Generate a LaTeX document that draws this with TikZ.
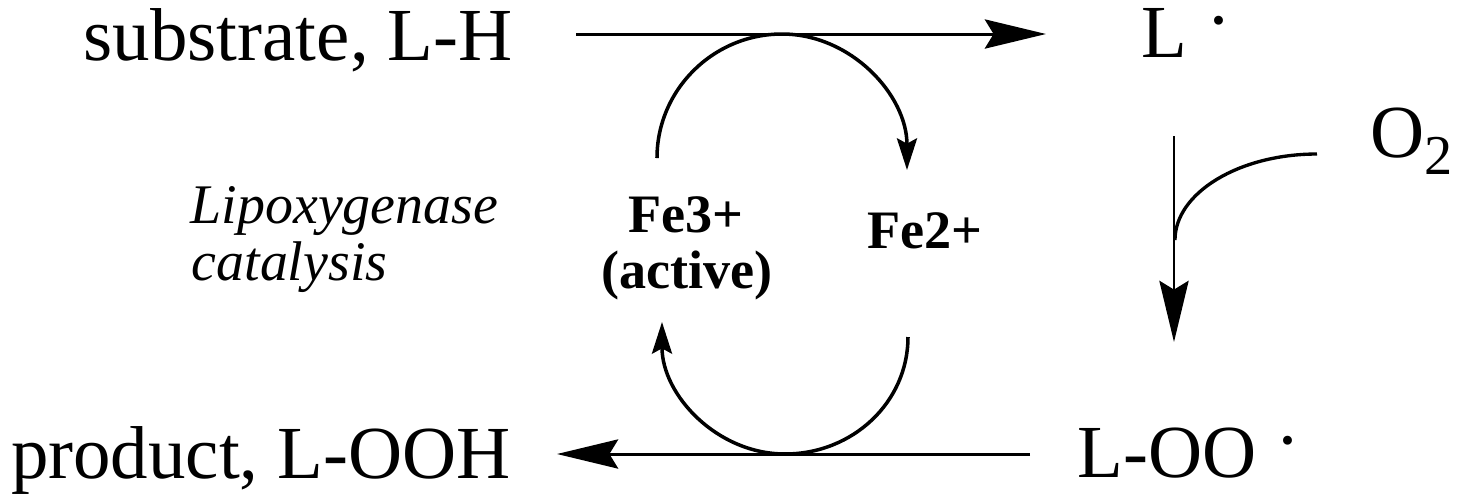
\documentclass[tikz,border=0pt]{standalone}
\usepackage{fontspec}
\setmainfont{Liberation Serif}
\usetikzlibrary{arrows.meta}
\tikzset{
  big/.style={font=\fontsize{21.3}{25}\selectfont,inner sep=0pt},
  ion/.style={font=\fontsize{15.4}{16}\selectfont\bfseries,inner sep=0pt},
  note/.style={font=\fontsize{15.9}{16.2}\selectfont\itshape,inner sep=0pt},
  rxn/.style={draw=black,line width=0.85pt,-{Stealth[length=17.4pt,width=8.3pt,inset=2.5pt]}},
  cyc/.style={draw=black,line width=1pt,-{Stealth[length=9pt,width=5.7pt,inset=1.5pt]}},
}
\newcommand{\rad}{\raisebox{0.16em}{·}}

\begin{document}
\begin{tikzpicture}[x=0.01cm,y=-0.01cm]
\useasboundingbox (0,0) rectangle (1459,499);
\coordinate (lh0) at (576,34);
\coordinate (lh1) at (1046,34);
\coordinate (lr0) at (1174,136);
\coordinate (lr1) at (1174,342);
\coordinate (ox0) at (1317,154);
\coordinate (ox1) at (1175,240);
\coordinate (oo0) at (1030,454);
\coordinate (oo1) at (557,454);
\coordinate (fe0) at (657,158);
\coordinate (fe1) at (782,34);
\coordinate (fe2) at (907,170);
\coordinate (fb0) at (908,337);
\coordinate (fb1) at (785,454);
\coordinate (fb2) at (662,322);
\draw[rxn] (lh0) -- (lh1);
\draw[rxn] (lr0) -- (lr1);
\draw[line width=0.95pt] (ox0) .. controls (1239,154) and (1175,193) .. (ox1);
\draw[rxn] (oo0) -- (oo1);
\draw[cyc] (fe0) .. controls (657,90) and (713,34) .. (fe1)
  .. controls (851,34) and (907,95) .. (fe2);
\draw[cyc] (fb0) .. controls (908,402) and (853,454) .. (fb1)
  .. controls (717,454) and (662,395) .. (fb2);
\node[big,anchor=base east] (sub) at (513,60) {substrate, L-H};
\node[big,anchor=base west] (lrad) at (1141,57) {L \rad};
\node[big,anchor=base west] (oxy) at (1370,157) {O\raisebox{-5.1pt}{\fontsize{16}{16}\selectfont 2}};
\node[big,anchor=base west] (peroxy) at (1077,477) {L-OO \rad};
\node[big,anchor=base east] (prod) at (511,478) {product, L-OOH};
\node[note,anchor=base west] (lipo) at (190,223) {Lipoxygenase};
\node[note,anchor=base west] (cat) at (191,280) {catalysis};
\node[ion,anchor=base] (fe3) at (686,232) {Fe3+};
\node[ion,anchor=base] (act) at (687,288) {(active)};
\node[ion,anchor=base] (fe2) at (925,248) {Fe2+};
\end{tikzpicture}
\end{document}
